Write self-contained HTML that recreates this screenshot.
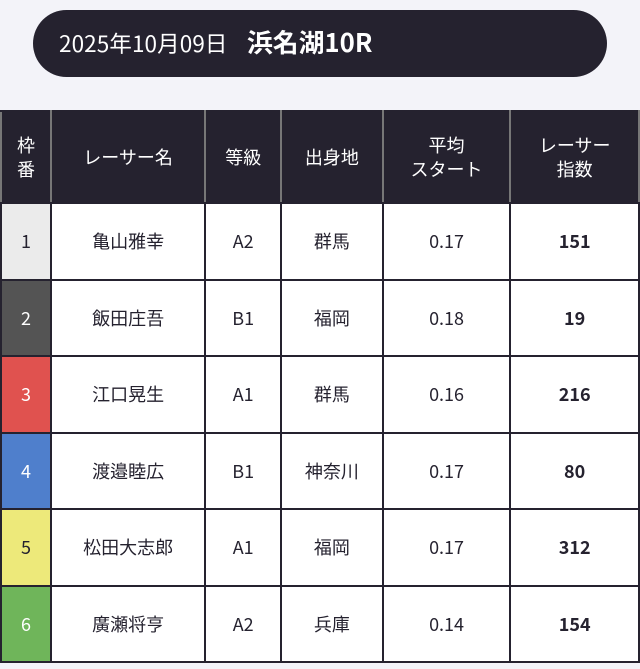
<!DOCTYPE html>
<html><head><meta charset="utf-8"><style>
body{margin:0;width:640px;height:669px;background:#f3f3f9;font-family:"Noto Sans CJK JP","Liberation Sans",sans-serif;overflow:hidden;position:relative}
.pill{position:absolute;left:33px;top:10px;width:574px;height:67px;background:#25222f;border-radius:34px;color:#fff}
.pill .d{position:absolute;left:26px;top:18px;font-size:22.5px;line-height:30px;letter-spacing:0.1px}
.pill .t{position:absolute;left:214px;top:17px;font-size:25.8px;font-weight:bold;line-height:30px}
table{position:absolute;left:0;top:110px;width:640px;border-collapse:collapse;background:#fff}
td,th{border:2px solid #25222f;text-align:center;font-size:18px;color:#25222f;padding:0}
th{background:#25222f;color:#fff;font-weight:normal;height:90px;line-height:24px;border-left:2px solid #777;border-right:2px solid #777}
td{height:74.5px}
b{font-weight:bold}
</style></head><body>
<div class="pill"><span class="d">2025年10月09日</span><span class="t">浜名湖10R</span></div>
<table>
<colgroup><col style="width:50px"><col style="width:155px"><col style="width:76px"><col style="width:102px"><col style="width:128px"><col style="width:129px"></colgroup>
<tr><th>枠<br>番</th><th>レーサー名</th><th>等級</th><th>出身地</th><th>平均<br>スタート</th><th>レーサー<br>指数</th></tr>
<tr><td style="background:#ebebeb">1</td><td>亀山雅幸</td><td>A2</td><td>群馬</td><td>0.17</td><td><b>151</b></td></tr>
<tr><td style="background:#545454;color:#fff">2</td><td>飯田庄吾</td><td>B1</td><td>福岡</td><td>0.18</td><td><b>19</b></td></tr>
<tr><td style="background:#e0524f;color:#fff">3</td><td>江口晃生</td><td>A1</td><td>群馬</td><td>0.16</td><td><b>216</b></td></tr>
<tr><td style="background:#4f7fcc;color:#fff">4</td><td>渡邉睦広</td><td>B1</td><td>神奈川</td><td>0.17</td><td><b>80</b></td></tr>
<tr><td style="background:#ede97a">5</td><td>松田大志郎</td><td>A1</td><td>福岡</td><td>0.17</td><td><b>312</b></td></tr>
<tr><td style="background:#6fb55a;color:#fff">6</td><td>廣瀬将亨</td><td>A2</td><td>兵庫</td><td>0.14</td><td><b>154</b></td></tr>
</table>
</body></html>
